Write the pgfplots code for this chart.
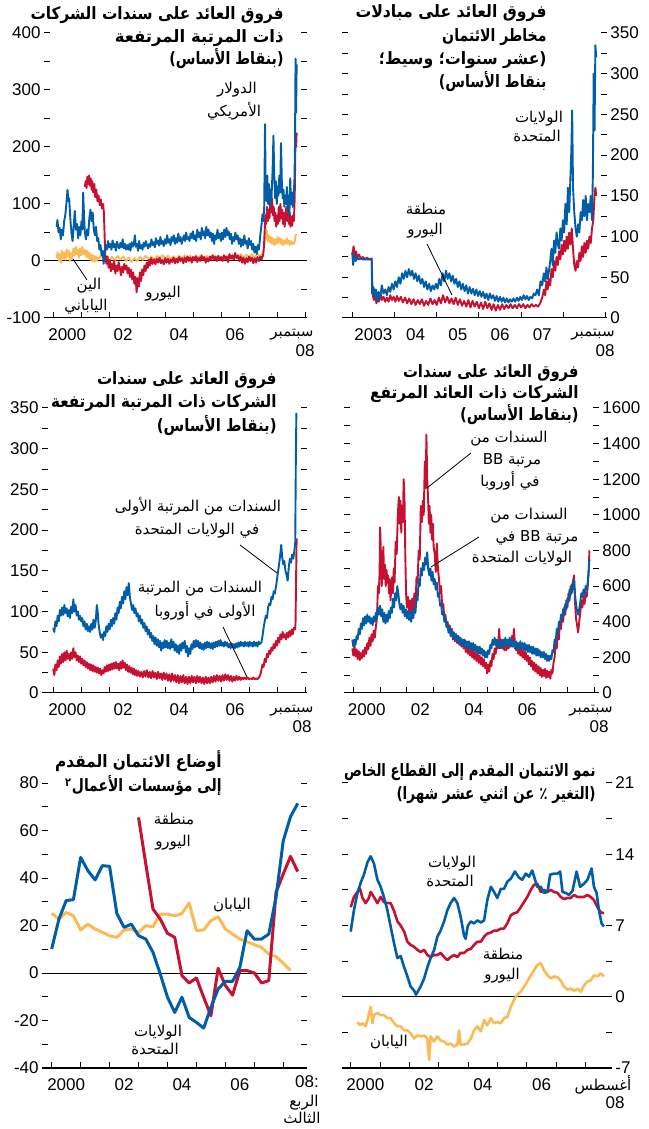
\documentclass[border=0pt]{standalone}
\usepackage{fontspec}
\setmainfont{Liberation Sans}
\newfontfamily\ar[Script=Arabic]{DejaVu Sans}
\TeXXeTstate=1
\usepackage{graphicx}
\usepackage{pgfplots}
\pgfplotsset{compat=1.18}

\definecolor{ecoblue}{RGB}{0,94,168}
\definecolor{ecored}{RGB}{198,17,49}
\definecolor{ecoyel}{RGB}{252,186,84}

\pgfplotsset{
  eco/.style={
    scale only axis, height=142.5pt, clip=false,
    axis line style={draw=none},
    tick align=inside,
    major tick length=3pt, minor tick length=3pt,
    tick style={black, line width=0.5pt},
    xtick pos=left, ytick pos=both,
    xtick={1999,...,2009}, xticklabels={},
    minor y tick num=1,
    extra x tick style={major tick length=0pt},
    tick label style={font=\fontsize{8.5}{10}\selectfont},
    x tick label style={yshift=-2pt},
    yticklabel style={inner sep=1.5pt},
    /pgf/number format/assume math mode=true,
    /pgf/number format/set thousands separator={},
  },
  noisy/.style={line width=0.95pt, line join=round},
  smooth5/.style={line width=1.5pt, line join=round},
}
% title line: [horizontal squeeze]{x}{y}{text}
\newcommand\ttl[4][0.87]{\node[anchor=base east, inner sep=0pt, font=\ar\bfseries\fontsize{8.5}{10}\selectfont] at (#2,#3) {\scalebox{#1}[1]{#4}};}
\newcommand\lbl[3]{\node[anchor=base, inner sep=0pt, font=\ar\fontsize{7.5}{9}\selectfont] at (#1,#2) {#3};}
\newcommand\num[3]{\node[anchor=base, inner sep=0pt, font=\fontsize{8.5}{10}\selectfont] at (#1,#2) {#3};}

\begin{document}
\begin{tikzpicture}
\path[use as bounding box] (0,0) rectangle (324pt,564.5pt);

% ---------- panel 1: corporate bond spreads, high grade
\begin{axis}[eco, at={(22pt,405.5pt)}, anchor=south west, width=131.5pt,
  xmin=1999.67, xmax=2009.07, ymin=-100, ymax=400, ytick={-100,0,...,400},
  yticklabel pos=left,
  extra x ticks={2000.5,2002.5,2004.5,2006.5}, extra x tick labels={2000,02,04,06}]
\draw[line width=0.5pt] ({rel axis cs:0,0}|-{axis cs:2000,0}) -- ({rel axis cs:1,0}|-{axis cs:2000,0});
\addplot[noisy, ecoyel] coordinates {(2000.12,5)(2000.16,15)(2000.20,0)(2000.24,12)(2000.28,-3)(2000.32,18)(2000.36,5)(2000.40,15)(2000.44,2)(2000.48,20)(2000.52,8)(2000.56,18)(2000.60,0)(2000.64,14)(2000.68,4)(2000.72,22)(2000.76,10)(2000.80,25)(2000.84,12)(2000.88,20)(2000.92,6)(2000.96,22)(2001.00,10)(2001.04,25)(2001.08,12)(2001.12,20)(2001.16,8)(2001.20,18)(2001.24,5)(2001.28,15)(2001.32,2)(2001.36,12)(2001.40,0)(2001.44,10)(2001.48,-2)(2001.52,8)(2001.56,0)(2001.60,6)(2001.64,4)(2001.7,10)(2001.8,2)(2001.9,8)(2002.0,0)(2002.1,7)(2002.2,1)(2002.3,9)(2002.4,3)(2002.5,8)(2002.6,0)(2002.7,6)(2002.8,-2)(2002.9,5)(2003.0,0)(2003.1,7)(2003.2,2)(2003.3,9)(2003.4,3)(2003.5,8)(2003.6,2)(2003.7,9)(2003.8,3)(2003.9,10)(2004.0,4)(2004.1,9)(2004.2,3)(2004.3,8)(2004.4,2)(2004.5,9)(2004.6,4)(2004.7,10)(2004.8,3)(2004.9,9)(2005.0,4)(2005.1,10)(2005.2,5)(2005.3,11)(2005.4,4)(2005.5,9)(2005.6,3)(2005.7,10)(2005.8,4)(2005.9,9)(2006.0,3)(2006.1,10)(2006.2,5)(2006.3,11)(2006.4,4)(2006.5,10)(2006.6,5)(2006.7,12)(2006.8,6)(2006.9,11)(2007.0,5)(2007.1,12)(2007.2,6)(2007.3,13)(2007.4,8)(2007.50,14)(2007.54,25)(2007.57,50)(2007.60,40)(2007.63,55)(2007.66,35)(2007.70,45)(2007.74,32)(2007.78,42)(2007.82,30)(2007.86,40)(2007.90,28)(2007.94,38)(2007.98,30)(2008.02,42)(2008.06,32)(2008.10,40)(2008.14,30)(2008.18,38)(2008.22,28)(2008.26,36)(2008.30,30)(2008.34,40)(2008.38,30)(2008.42,36)(2008.46,28)(2008.50,35)(2008.54,30)(2008.58,33)(2008.62,30)(2008.66,45)(2008.70,47)};
\addplot[noisy, ecored] coordinates {(2001.13,130)(2001.16,140)(2001.19,128)(2001.22,148)(2001.25,135)(2001.28,150)(2001.31,132)(2001.34,145)(2001.37,125)(2001.40,140)(2001.43,120)(2001.47,135)(2001.50,112)(2001.54,125)(2001.58,105)(2001.62,115)(2001.66,98)(2001.70,108)(2001.74,92)(2001.78,100)(2001.81,85)(2001.84,40)(2001.86,10)(2001.90,-5)(2001.94,8)(2001.98,-12)(2002.02,2)(2002.06,-18)(2002.10,-5)(2002.14,-15)(2002.18,0)(2002.22,-22)(2002.26,-8)(2002.30,-18)(2002.34,-2)(2002.38,-12)(2002.42,-25)(2002.46,-10)(2002.50,-20)(2002.54,-5)(2002.58,-15)(2002.62,-8)(2002.66,-22)(2002.70,-12)(2002.74,-28)(2002.78,-15)(2002.82,-32)(2002.86,-20)(2002.90,-40)(2002.94,-28)(2002.98,-55)(2003.02,-30)(2003.06,-45)(2003.10,-20)(2003.14,-35)(2003.18,-15)(2003.22,-25)(2003.26,-8)(2003.30,-18)(2003.34,-3)(2003.38,-12)(2003.42,2)(2003.46,-8)(2003.50,5)(2003.55,-5)(2003.60,3)(2003.65,-6)(2003.70,4)(2003.75,-3)(2003.80,6)(2003.85,-4)(2003.90,2)(2003.95,-6)(2004.00,5)(2004.05,-3)(2004.10,4)(2004.15,-5)(2004.20,3)(2004.25,-2)(2004.30,6)(2004.35,-4)(2004.40,4)(2004.45,-3)(2004.50,7)(2004.55,0)(2004.60,5)(2004.65,-4)(2004.70,6)(2004.75,-2)(2004.80,8)(2004.85,0)(2004.90,6)(2004.95,-3)(2005.00,7)(2005.05,1)(2005.10,8)(2005.15,-2)(2005.20,6)(2005.25,0)(2005.30,9)(2005.35,2)(2005.40,7)(2005.45,-3)(2005.50,5)(2005.55,-1)(2005.60,8)(2005.65,2)(2005.70,10)(2005.75,3)(2005.80,8)(2005.85,0)(2005.90,9)(2005.95,2)(2006.00,7)(2006.05,0)(2006.10,10)(2006.15,3)(2006.20,8)(2006.25,-2)(2006.30,12)(2006.35,4)(2006.40,10)(2006.45,2)(2006.50,14)(2006.55,5)(2006.60,10)(2006.65,0)(2006.70,8)(2006.75,-3)(2006.80,6)(2006.85,-5)(2006.90,5)(2006.95,-2)(2007.00,8)(2007.05,0)(2007.10,6)(2007.15,-4)(2007.20,5)(2007.25,-3)(2007.30,7)(2007.35,0)(2007.40,8)(2007.45,3)(2007.50,10)(2007.53,25)(2007.56,55)(2007.58,80)(2007.61,65)(2007.64,95)(2007.67,70)(2007.70,90)(2007.73,75)(2007.76,105)(2007.79,85)(2007.82,110)(2007.85,80)(2007.88,95)(2007.91,70)(2007.94,85)(2007.97,60)(2008.00,80)(2008.03,65)(2008.06,95)(2008.09,70)(2008.12,100)(2008.15,75)(2008.18,90)(2008.21,65)(2008.24,85)(2008.27,60)(2008.30,80)(2008.33,95)(2008.36,70)(2008.39,90)(2008.42,65)(2008.45,85)(2008.48,60)(2008.51,78)(2008.54,62)(2008.57,80)(2008.60,70)(2008.63,110)(2008.66,225)(2008.68,200)(2008.70,225)};
\addplot[noisy, ecoblue] coordinates {(2000.12,60)(2000.15,72)(2000.19,50)(2000.23,58)(2000.27,38)(2000.31,55)(2000.35,45)(2000.39,70)(2000.43,80)(2000.47,100)(2000.51,125)(2000.54,105)(2000.57,110)(2000.61,75)(2000.65,50)(2000.69,35)(2000.73,60)(2000.77,88)(2000.81,55)(2000.85,65)(2000.89,40)(2000.93,60)(2000.97,45)(2001.01,70)(2001.04,55)(2001.07,120)(2001.10,80)(2001.13,50)(2001.17,38)(2001.21,55)(2001.25,45)(2001.29,75)(2001.33,90)(2001.37,70)(2001.41,85)(2001.45,55)(2001.49,45)(2001.53,60)(2001.57,35)(2001.61,40)(2001.65,20)(2001.69,28)(2001.73,10)(2001.77,18)(2001.80,-5)(2001.84,15)(2001.88,28)(2001.92,20)(2001.96,35)(2002.00,24)(2002.04,30)(2002.08,20)(2002.12,36)(2002.16,24)(2002.20,30)(2002.24,18)(2002.28,34)(2002.32,26)(2002.36,22)(2002.40,32)(2002.44,24)(2002.48,38)(2002.52,22)(2002.56,30)(2002.60,20)(2002.64,28)(2002.68,20)(2002.72,30)(2002.76,18)(2002.80,33)(2002.84,25)(2002.88,30)(2002.92,45)(2002.95,25)(2002.99,30)(2003.03,18)(2003.07,35)(2003.11,22)(2003.15,28)(2003.19,20)(2003.23,32)(2003.27,25)(2003.31,35)(2003.35,28)(2003.39,22)(2003.43,30)(2003.47,25)(2003.51,38)(2003.55,28)(2003.59,33)(2003.63,24)(2003.67,40)(2003.71,30)(2003.75,36)(2003.79,27)(2003.83,42)(2003.87,30)(2003.91,35)(2003.95,26)(2003.99,38)(2004.03,30)(2004.07,45)(2004.11,32)(2004.15,38)(2004.19,28)(2004.23,42)(2004.27,35)(2004.31,45)(2004.35,30)(2004.39,40)(2004.43,32)(2004.47,48)(2004.51,35)(2004.55,42)(2004.59,30)(2004.63,38)(2004.67,45)(2004.71,35)(2004.75,50)(2004.79,38)(2004.83,42)(2004.87,35)(2004.91,48)(2004.95,40)(2004.99,52)(2005.03,38)(2005.07,45)(2005.11,35)(2005.15,55)(2005.19,42)(2005.23,50)(2005.27,38)(2005.31,58)(2005.35,45)(2005.39,52)(2005.43,40)(2005.47,60)(2005.51,45)(2005.55,55)(2005.59,42)(2005.63,50)(2005.67,35)(2005.71,48)(2005.75,30)(2005.79,45)(2005.83,38)(2005.87,55)(2005.91,40)(2005.95,48)(2005.99,35)(2006.03,50)(2006.07,38)(2006.11,55)(2006.15,42)(2006.19,58)(2006.23,45)(2006.27,52)(2006.31,38)(2006.35,48)(2006.39,30)(2006.43,42)(2006.47,35)(2006.51,50)(2006.55,38)(2006.59,45)(2006.63,30)(2006.67,40)(2006.71,25)(2006.75,38)(2006.79,28)(2006.83,45)(2006.87,30)(2006.91,35)(2006.95,22)(2006.99,40)(2007.03,28)(2007.07,35)(2007.11,20)(2007.15,30)(2007.19,15)(2007.23,25)(2007.27,12)(2007.31,28)(2007.35,20)(2007.40,45)(2007.44,62)(2007.48,82)(2007.51,70)(2007.54,95)(2007.57,240)(2007.59,140)(2007.62,105)(2007.65,150)(2007.68,100)(2007.71,135)(2007.74,95)(2007.77,125)(2007.80,110)(2007.84,160)(2007.87,220)(2007.90,150)(2007.93,110)(2007.96,140)(2007.99,100)(2008.02,130)(2008.05,115)(2008.08,150)(2008.11,120)(2008.14,207)(2008.17,140)(2008.20,110)(2008.23,125)(2008.26,95)(2008.29,115)(2008.32,100)(2008.35,130)(2008.38,90)(2008.41,115)(2008.44,80)(2008.47,145)(2008.50,100)(2008.53,120)(2008.56,95)(2008.59,115)(2008.62,140)(2008.64,200)(2008.66,355)(2008.68,260)(2008.70,345)};
\draw[line width=0.5pt] (rel axis cs:0,0) -- (rel axis cs:1,0);
\end{axis}

% ---------- panel 2: credit default swap spreads
\begin{axis}[eco, at={(171pt,405.5pt)}, anchor=south west, width=132.5pt,
  xmin=2002.756, xmax=2009.035, ymin=0, ymax=350, ytick={0,50,...,350},
  yticklabel pos=right,
  extra x ticks={2003.5,2004.5,2005.5,2006.5,2007.5}, extra x tick labels={2003,04,05,06,07}]
\addplot[noisy, ecored] coordinates {(2003.00,78)(2003.03,88)(2003.06,75)(2003.09,82)(2003.12,74)(2003.16,78)(2003.20,73)(2003.25,75)(2003.30,72)(2003.35,74)(2003.40,72)(2003.46,73)(2003.48,30)(2003.51,22)(2003.54,35)(2003.57,18)(2003.60,28)(2003.63,20)(2003.67,30)(2003.70,22)(2003.74,26)(2003.78,20)(2003.82,25)(2003.86,20)(2003.90,28)(2003.94,22)(2003.98,26)(2004.02,20)(2004.06,27)(2004.10,21)(2004.15,26)(2004.20,19)(2004.25,25)(2004.30,18)(2004.35,24)(2004.40,17)(2004.45,23)(2004.50,16)(2004.55,22)(2004.60,17)(2004.65,23)(2004.70,15)(2004.75,21)(2004.80,16)(2004.85,24)(2004.90,17)(2004.95,22)(2005.00,16)(2005.05,25)(2005.10,18)(2005.15,28)(2005.20,19)(2005.25,26)(2005.30,18)(2005.35,24)(2005.40,17)(2005.45,25)(2005.50,16)(2005.55,23)(2005.60,15)(2005.65,21)(2005.70,14)(2005.75,22)(2005.80,13)(2005.85,21)(2005.90,14)(2005.95,20)(2006.00,12)(2006.05,19)(2006.10,11)(2006.15,20)(2006.20,12)(2006.25,18)(2006.30,10)(2006.35,17)(2006.40,9)(2006.45,16)(2006.50,10)(2006.55,17)(2006.60,11)(2006.65,16)(2006.70,12)(2006.75,17)(2006.80,12)(2006.85,16)(2006.90,12)(2006.95,17)(2007.00,13)(2007.05,17)(2007.10,12)(2007.15,16)(2007.20,13)(2007.25,17)(2007.30,14)(2007.35,16)(2007.40,14)(2007.45,18)(2007.50,25)(2007.54,35)(2007.57,28)(2007.60,45)(2007.63,35)(2007.66,48)(2007.69,40)(2007.72,60)(2007.75,50)(2007.78,70)(2007.81,58)(2007.84,75)(2007.87,65)(2007.90,82)(2007.93,72)(2007.96,90)(2007.99,78)(2008.02,95)(2008.05,82)(2008.08,100)(2008.11,85)(2008.14,105)(2008.17,90)(2008.20,110)(2008.23,85)(2008.26,65)(2008.29,58)(2008.32,70)(2008.35,62)(2008.38,80)(2008.41,70)(2008.44,88)(2008.47,75)(2008.50,92)(2008.53,80)(2008.56,95)(2008.59,85)(2008.62,100)(2008.65,92)(2008.68,110)(2008.71,120)(2008.74,150)(2008.76,160)(2008.78,150)};
\addplot[noisy, ecoblue] coordinates {(2003.00,80)(2003.02,65)(2003.05,78)(2003.08,70)(2003.11,74)(2003.15,72)(2003.20,73)(2003.25,72)(2003.30,72)(2003.35,72)(2003.42,72)(2003.46,72)(2003.47,30)(2003.50,38)(2003.53,25)(2003.56,35)(2003.59,20)(2003.62,32)(2003.66,25)(2003.70,40)(2003.74,30)(2003.78,35)(2003.82,28)(2003.86,38)(2003.90,32)(2003.94,42)(2003.98,35)(2004.02,45)(2004.06,38)(2004.10,50)(2004.14,42)(2004.18,55)(2004.22,48)(2004.26,58)(2004.30,50)(2004.34,60)(2004.38,52)(2004.42,58)(2004.46,48)(2004.50,55)(2004.54,45)(2004.58,52)(2004.62,42)(2004.66,48)(2004.70,38)(2004.74,45)(2004.78,35)(2004.82,42)(2004.86,33)(2004.90,40)(2004.94,35)(2004.98,42)(2005.02,36)(2005.06,48)(2005.10,40)(2005.14,55)(2005.18,45)(2005.22,58)(2005.26,48)(2005.30,55)(2005.34,45)(2005.38,52)(2005.42,42)(2005.46,48)(2005.50,38)(2005.54,45)(2005.58,35)(2005.62,42)(2005.66,33)(2005.70,40)(2005.74,30)(2005.78,38)(2005.82,30)(2005.86,36)(2005.90,28)(2005.94,35)(2005.98,27)(2006.02,33)(2006.06,26)(2006.10,32)(2006.14,24)(2006.18,30)(2006.22,22)(2006.26,30)(2006.30,24)(2006.34,28)(2006.38,21)(2006.42,27)(2006.46,20)(2006.50,26)(2006.54,20)(2006.58,25)(2006.62,19)(2006.66,24)(2006.70,19)(2006.74,23)(2006.78,20)(2006.82,24)(2006.86,20)(2006.90,25)(2006.94,21)(2006.98,26)(2007.02,22)(2007.06,28)(2007.10,23)(2007.14,27)(2007.18,22)(2007.22,26)(2007.26,24)(2007.30,30)(2007.34,28)(2007.38,35)(2007.42,28)(2007.46,45)(2007.50,40)(2007.54,55)(2007.57,45)(2007.60,62)(2007.63,48)(2007.66,58)(2007.69,70)(2007.72,85)(2007.75,65)(2007.78,95)(2007.81,80)(2007.84,105)(2007.87,90)(2007.90,85)(2007.93,110)(2007.96,95)(2007.99,120)(2008.02,105)(2008.05,140)(2008.08,115)(2008.11,160)(2008.14,130)(2008.17,175)(2008.19,205)(2008.21,255)(2008.23,160)(2008.26,130)(2008.29,110)(2008.32,100)(2008.35,115)(2008.38,105)(2008.41,130)(2008.44,120)(2008.47,145)(2008.50,125)(2008.53,150)(2008.56,120)(2008.59,140)(2008.62,130)(2008.65,150)(2008.68,120)(2008.70,175)(2008.72,300)(2008.74,230)(2008.76,335)(2008.78,320)};
\draw[line width=0.5pt] (rel axis cs:0,0) -- (rel axis cs:1,0);
\end{axis}

% ---------- panel 3: corporate bond spreads, top grade
\begin{axis}[eco, at={(21pt,218pt)}, anchor=south west, width=132.5pt,
  xmin=1999.6, xmax=2009.07, ymin=0, ymax=350, ytick={0,50,...,350},
  yticklabel pos=left,
  extra x ticks={2000.5,2002.5,2004.5,2006.5}, extra x tick labels={2000,02,04,06}]
\addplot[noisy, ecored] coordinates {(2000.00,30)(2000.04,22)(2000.08,35)(2000.12,28)(2000.16,40)(2000.20,32)(2000.24,45)(2000.28,36)(2000.32,48)(2000.36,38)(2000.40,50)(2000.44,40)(2000.48,52)(2000.52,42)(2000.56,48)(2000.60,40)(2000.64,50)(2000.68,42)(2000.72,55)(2000.76,44)(2000.80,50)(2000.84,40)(2000.88,46)(2000.92,38)(2000.96,45)(2001.00,36)(2001.04,42)(2001.08,34)(2001.12,40)(2001.16,32)(2001.20,38)(2001.24,30)(2001.28,36)(2001.32,28)(2001.36,35)(2001.40,27)(2001.44,34)(2001.48,26)(2001.52,32)(2001.56,25)(2001.60,31)(2001.64,24)(2001.68,30)(2001.72,22)(2001.76,28)(2001.80,24)(2001.84,32)(2001.88,26)(2001.92,34)(2001.96,27)(2002.00,35)(2002.04,28)(2002.08,36)(2002.12,29)(2002.16,37)(2002.20,30)(2002.24,38)(2002.28,30)(2002.32,36)(2002.36,28)(2002.40,38)(2002.44,30)(2002.48,40)(2002.52,31)(2002.56,37)(2002.60,28)(2002.64,35)(2002.68,26)(2002.72,33)(2002.76,25)(2002.80,31)(2002.84,23)(2002.88,30)(2002.92,22)(2002.96,28)(2003.00,21)(2003.05,27)(2003.10,20)(2003.15,26)(2003.20,19)(2003.25,27)(2003.30,20)(2003.35,28)(2003.40,19)(2003.45,26)(2003.50,18)(2003.55,27)(2003.60,19)(2003.65,25)(2003.70,17)(2003.75,26)(2003.80,18)(2003.85,24)(2003.90,16)(2003.95,25)(2004.00,17)(2004.05,24)(2004.10,15)(2004.15,23)(2004.20,14)(2004.25,24)(2004.30,15)(2004.35,22)(2004.40,13)(2004.45,22)(2004.50,12)(2004.55,21)(2004.60,13)(2004.65,22)(2004.70,12)(2004.75,20)(2004.80,11)(2004.85,20)(2004.90,12)(2004.95,21)(2005.00,13)(2005.05,20)(2005.10,12)(2005.15,21)(2005.20,13)(2005.25,20)(2005.30,12)(2005.35,19)(2005.40,11)(2005.45,20)(2005.50,12)(2005.55,19)(2005.60,12)(2005.65,20)(2005.70,13)(2005.75,21)(2005.80,14)(2005.85,22)(2005.90,15)(2005.95,21)(2006.00,14)(2006.05,22)(2006.10,15)(2006.15,23)(2006.20,16)(2006.25,22)(2006.30,15)(2006.35,21)(2006.40,14)(2006.45,20)(2006.50,15)(2006.55,21)(2006.60,16)(2006.65,20)(2006.70,16)(2006.75,19)(2006.80,17)(2006.85,19)(2006.90,17)(2006.95,19)(2007.00,17)(2007.05,18)(2007.10,17)(2007.15,19)(2007.20,17)(2007.25,18)(2007.30,17)(2007.35,19)(2007.40,22)(2007.44,28)(2007.48,35)(2007.52,32)(2007.56,42)(2007.60,38)(2007.64,48)(2007.68,44)(2007.72,52)(2007.76,48)(2007.80,56)(2007.84,52)(2007.88,60)(2007.92,55)(2007.96,64)(2008.00,58)(2008.04,68)(2008.08,62)(2008.12,72)(2008.16,66)(2008.20,75)(2008.24,68)(2008.28,72)(2008.32,66)(2008.36,74)(2008.40,68)(2008.44,76)(2008.48,70)(2008.52,78)(2008.56,72)(2008.60,80)(2008.64,78)(2008.66,85)(2008.68,140)(2008.70,190)};
\addplot[noisy, ecoblue] coordinates {(2000.00,80)(2000.04,75)(2000.08,88)(2000.12,82)(2000.16,95)(2000.20,88)(2000.24,102)(2000.28,95)(2000.32,105)(2000.36,96)(2000.40,108)(2000.44,98)(2000.48,104)(2000.52,94)(2000.56,102)(2000.60,92)(2000.64,106)(2000.68,98)(2000.72,115)(2000.76,100)(2000.80,108)(2000.84,95)(2000.88,100)(2000.92,90)(2000.96,95)(2001.00,88)(2001.04,92)(2001.08,82)(2001.12,88)(2001.16,78)(2001.20,85)(2001.24,76)(2001.28,82)(2001.32,75)(2001.36,85)(2001.40,78)(2001.44,90)(2001.48,80)(2001.52,88)(2001.56,108)(2001.59,100)(2001.62,85)(2001.66,75)(2001.70,68)(2001.74,72)(2001.78,65)(2001.82,75)(2001.86,70)(2001.90,82)(2001.94,75)(2001.98,85)(2002.02,78)(2002.06,90)(2002.10,82)(2002.14,92)(2002.18,85)(2002.22,98)(2002.26,90)(2002.30,105)(2002.34,98)(2002.38,112)(2002.42,104)(2002.46,118)(2002.50,110)(2002.54,125)(2002.58,115)(2002.62,130)(2002.66,120)(2002.70,135)(2002.74,118)(2002.78,110)(2002.82,102)(2002.86,108)(2002.90,98)(2002.94,104)(2002.98,94)(2003.02,98)(2003.06,88)(2003.10,95)(2003.14,85)(2003.18,90)(2003.22,80)(2003.26,86)(2003.30,76)(2003.34,82)(2003.38,72)(2003.42,78)(2003.46,68)(2003.50,74)(2003.54,64)(2003.58,70)(2003.62,60)(2003.66,68)(2003.70,58)(2003.74,66)(2003.78,56)(2003.82,64)(2003.86,52)(2003.90,62)(2003.94,55)(2003.98,65)(2004.02,56)(2004.06,64)(2004.10,55)(2004.14,62)(2004.18,54)(2004.22,66)(2004.26,56)(2004.30,63)(2004.34,52)(2004.38,60)(2004.42,50)(2004.46,58)(2004.50,48)(2004.54,60)(2004.58,52)(2004.62,62)(2004.66,55)(2004.70,64)(2004.74,50)(2004.78,58)(2004.82,45)(2004.86,55)(2004.90,48)(2004.94,60)(2004.98,54)(2005.02,64)(2005.06,56)(2005.10,65)(2005.14,57)(2005.18,64)(2005.22,55)(2005.26,62)(2005.30,54)(2005.34,60)(2005.38,53)(2005.42,62)(2005.46,55)(2005.50,63)(2005.54,56)(2005.58,62)(2005.62,55)(2005.66,61)(2005.70,54)(2005.74,62)(2005.78,56)(2005.82,63)(2005.86,57)(2005.90,64)(2005.94,58)(2005.98,65)(2006.02,58)(2006.06,62)(2006.10,57)(2006.14,63)(2006.18,58)(2006.22,62)(2006.26,56)(2006.30,60)(2006.34,55)(2006.38,61)(2006.42,56)(2006.46,60)(2006.50,55)(2006.54,61)(2006.58,56)(2006.62,62)(2006.66,57)(2006.70,63)(2006.74,58)(2006.78,62)(2006.82,57)(2006.86,63)(2006.90,58)(2006.94,62)(2006.98,57)(2007.02,63)(2007.06,58)(2007.10,62)(2007.14,57)(2007.18,63)(2007.22,58)(2007.26,62)(2007.30,57)(2007.34,63)(2007.38,60)(2007.44,62)(2007.48,70)(2007.52,80)(2007.56,88)(2007.60,95)(2007.64,92)(2007.68,105)(2007.72,110)(2007.76,108)(2007.80,118)(2007.84,115)(2007.88,125)(2007.92,122)(2007.96,130)(2008.00,140)(2008.04,150)(2008.08,160)(2008.12,172)(2008.15,182)(2008.18,168)(2008.22,158)(2008.26,162)(2008.30,150)(2008.34,145)(2008.38,138)(2008.42,155)(2008.46,165)(2008.50,160)(2008.54,170)(2008.58,165)(2008.62,175)(2008.65,185)(2008.67,280)(2008.69,344)};
\draw[line width=0.5pt] (rel axis cs:0,0) -- (rel axis cs:1,0);
\end{axis}

% ---------- panel 4: high-yield corporate bond spreads
\begin{axis}[eco, at={(172pt,218pt)}, anchor=south west, width=127.5pt,
  xmin=1999.65, xmax=2009.18, ymin=0, ymax=1600, ytick={0,200,...,1600},
  yticklabel pos=right,
  extra x ticks={2000.5,2002.5,2004.5,2006.5}, extra x tick labels={2000,02,04,06}]
\addplot[noisy, ecored] coordinates {(1999.96,250)(2000.00,210)(2000.04,265)(2000.08,205)(2000.12,245)(2000.16,190)(2000.20,235)(2000.24,185)(2000.28,225)(2000.32,195)(2000.36,240)(2000.40,205)(2000.44,255)(2000.48,220)(2000.52,280)(2000.56,245)(2000.60,310)(2000.64,265)(2000.68,330)(2000.72,290)(2000.76,350)(2000.80,310)(2000.84,370)(2000.88,420)(2000.92,600)(2000.95,560)(2000.98,680)(2001.00,930)(2001.03,780)(2001.06,600)(2001.09,700)(2001.12,820)(2001.15,640)(2001.18,720)(2001.21,600)(2001.24,690)(2001.27,620)(2001.30,660)(2001.33,560)(2001.36,640)(2001.39,520)(2001.42,600)(2001.45,650)(2001.48,560)(2001.51,700)(2001.54,620)(2001.58,850)(2001.62,780)(2001.66,1000)(2001.70,1100)(2001.73,950)(2001.76,1080)(2001.79,900)(2001.82,1050)(2001.85,960)(2001.88,1200)(2001.91,1100)(2001.94,780)(2001.97,560)(2002.00,480)(2002.04,540)(2002.08,440)(2002.12,520)(2002.16,450)(2002.20,530)(2002.24,460)(2002.28,560)(2002.32,480)(2002.36,650)(2002.40,620)(2002.44,800)(2002.48,750)(2002.52,1050)(2002.56,960)(2002.60,1080)(2002.63,1000)(2002.67,1300)(2002.70,1150)(2002.73,1450)(2002.76,1200)(2002.79,1100)(2002.82,950)(2002.85,1050)(2002.88,900)(2002.91,1000)(2002.94,860)(2002.97,950)(2003.00,820)(2003.04,780)(2003.08,680)(2003.12,840)(2003.16,700)(2003.20,640)(2003.24,560)(2003.28,600)(2003.32,480)(2003.36,500)(2003.40,420)(2003.44,440)(2003.48,380)(2003.52,400)(2003.56,340)(2003.60,380)(2003.64,320)(2003.68,360)(2003.72,300)(2003.76,340)(2003.80,290)(2003.84,330)(2003.88,280)(2003.92,320)(2003.96,270)(2004.00,310)(2004.04,260)(2004.08,300)(2004.12,250)(2004.16,290)(2004.20,230)(2004.24,270)(2004.28,220)(2004.32,260)(2004.36,210)(2004.40,250)(2004.44,200)(2004.48,240)(2004.52,190)(2004.56,230)(2004.60,180)(2004.64,220)(2004.68,170)(2004.72,210)(2004.76,160)(2004.80,200)(2004.84,150)(2004.88,190)(2004.92,140)(2004.96,170)(2005.00,110)(2005.04,160)(2005.08,120)(2005.12,180)(2005.16,150)(2005.20,220)(2005.24,190)(2005.28,250)(2005.32,220)(2005.36,290)(2005.40,250)(2005.45,360)(2005.48,270)(2005.52,300)(2005.56,250)(2005.60,290)(2005.64,240)(2005.68,280)(2005.72,240)(2005.76,290)(2005.80,250)(2005.84,300)(2005.88,260)(2005.92,320)(2005.96,280)(2006.00,360)(2006.04,270)(2006.08,240)(2006.12,280)(2006.16,220)(2006.20,260)(2006.24,210)(2006.28,250)(2006.32,200)(2006.36,240)(2006.40,190)(2006.44,230)(2006.48,180)(2006.52,210)(2006.56,160)(2006.60,200)(2006.64,150)(2006.68,180)(2006.72,130)(2006.76,170)(2006.80,120)(2006.84,160)(2006.88,110)(2006.92,150)(2006.96,100)(2007.00,140)(2007.04,90)(2007.08,130)(2007.12,95)(2007.16,135)(2007.20,85)(2007.24,125)(2007.28,90)(2007.32,120)(2007.36,80)(2007.40,130)(2007.44,110)(2007.48,170)(2007.52,200)(2007.56,280)(2007.60,250)(2007.64,340)(2007.68,300)(2007.72,400)(2007.76,360)(2007.80,440)(2007.84,400)(2007.88,480)(2007.92,440)(2007.96,520)(2008.00,480)(2008.04,560)(2008.08,520)(2008.12,600)(2008.16,560)(2008.20,620)(2008.25,660)(2008.28,520)(2008.32,420)(2008.36,380)(2008.40,340)(2008.44,400)(2008.48,450)(2008.52,520)(2008.56,480)(2008.60,540)(2008.64,500)(2008.68,560)(2008.72,540)(2008.76,600)(2008.80,700)(2008.82,800)};
\addplot[noisy, ecoblue] coordinates {(1999.96,300)(2000.00,260)(2000.04,300)(2000.08,270)(2000.12,320)(2000.16,300)(2000.20,360)(2000.24,330)(2000.28,390)(2000.32,360)(2000.36,420)(2000.40,380)(2000.44,430)(2000.48,390)(2000.52,440)(2000.56,400)(2000.60,430)(2000.64,390)(2000.68,420)(2000.72,380)(2000.76,430)(2000.80,400)(2000.84,450)(2000.88,420)(2000.92,480)(2000.96,440)(2001.00,490)(2001.04,430)(2001.08,470)(2001.12,400)(2001.16,450)(2001.20,390)(2001.24,440)(2001.28,400)(2001.32,460)(2001.36,420)(2001.40,480)(2001.44,450)(2001.48,530)(2001.52,480)(2001.56,560)(2001.60,520)(2001.64,600)(2001.68,560)(2001.72,500)(2001.76,470)(2001.80,500)(2001.84,450)(2001.88,490)(2001.92,430)(2001.96,470)(2002.00,420)(2002.04,460)(2002.08,410)(2002.12,450)(2002.16,400)(2002.20,460)(2002.24,420)(2002.28,480)(2002.32,450)(2002.36,540)(2002.40,520)(2002.44,640)(2002.48,600)(2002.52,700)(2002.56,660)(2002.60,730)(2002.64,690)(2002.68,760)(2002.72,720)(2002.76,790)(2002.80,690)(2002.84,660)(2002.88,700)(2002.92,630)(2002.96,680)(2003.00,610)(2003.04,640)(2003.08,580)(2003.12,620)(2003.16,540)(2003.20,560)(2003.24,490)(2003.28,500)(2003.32,440)(2003.36,460)(2003.40,400)(2003.44,420)(2003.48,370)(2003.52,390)(2003.56,340)(2003.60,370)(2003.64,320)(2003.68,350)(2003.72,310)(2003.76,340)(2003.80,300)(2003.84,330)(2003.88,290)(2003.92,320)(2003.96,280)(2004.00,310)(2004.04,270)(2004.08,300)(2004.12,260)(2004.16,300)(2004.20,260)(2004.24,290)(2004.28,250)(2004.32,290)(2004.36,250)(2004.40,280)(2004.44,240)(2004.48,280)(2004.52,240)(2004.56,270)(2004.60,230)(2004.64,260)(2004.68,220)(2004.72,260)(2004.76,220)(2004.80,250)(2004.84,210)(2004.88,240)(2004.92,200)(2004.96,230)(2005.00,200)(2005.04,240)(2005.08,220)(2005.12,270)(2005.16,250)(2005.20,300)(2005.24,270)(2005.28,310)(2005.32,270)(2005.36,300)(2005.40,260)(2005.44,290)(2005.48,250)(2005.52,290)(2005.56,260)(2005.60,300)(2005.64,270)(2005.68,310)(2005.72,260)(2005.76,300)(2005.80,270)(2005.84,310)(2005.88,260)(2005.92,300)(2005.96,260)(2006.00,290)(2006.04,250)(2006.08,290)(2006.12,250)(2006.16,280)(2006.20,250)(2006.24,290)(2006.28,250)(2006.32,280)(2006.36,240)(2006.40,280)(2006.44,240)(2006.48,270)(2006.52,230)(2006.56,270)(2006.60,230)(2006.64,260)(2006.68,220)(2006.72,260)(2006.76,220)(2006.80,250)(2006.84,210)(2006.88,250)(2006.92,210)(2006.96,240)(2007.00,200)(2007.04,230)(2007.08,200)(2007.12,230)(2007.16,190)(2007.20,220)(2007.24,180)(2007.28,210)(2007.32,180)(2007.36,210)(2007.40,190)(2007.44,240)(2007.48,230)(2007.52,300)(2007.56,280)(2007.60,360)(2007.64,330)(2007.68,400)(2007.72,380)(2007.76,440)(2007.80,420)(2007.84,470)(2007.88,440)(2007.92,500)(2007.96,470)(2008.00,530)(2008.04,510)(2008.08,580)(2008.12,550)(2008.16,610)(2008.20,580)(2008.24,640)(2008.28,560)(2008.32,500)(2008.36,460)(2008.40,440)(2008.44,470)(2008.48,510)(2008.52,560)(2008.56,540)(2008.60,580)(2008.64,550)(2008.68,600)(2008.72,580)(2008.76,620)(2008.80,700)(2008.82,750)};
\draw[line width=0.5pt] (rel axis cs:0,0) -- (rel axis cs:1,0);
\end{axis}

% ---------- panel 5: credit conditions for business (quarterly)
\begin{axis}[eco, at={(21pt,30.5pt)}, anchor=south west, width=132.5pt,
  xmin=1999.665, xmax=2008.82, ymin=-40, ymax=80, ytick={-40,-20,...,80},
  xtick={2000,...,2008}, yticklabel pos=left,
  extra x ticks={2000.5,2002.5,2004.5,2006.5}, extra x tick labels={2000,02,04,06}]
\draw[line width=0.5pt] ({rel axis cs:0,0}|-{axis cs:2000,0}) -- ({rel axis cs:1,0}|-{axis cs:2000,0});
\addplot[smooth5, ecoyel] coordinates {(2000.00,25.1)(2000.25,22.7)(2000.50,25.5)(2000.75,24.1)(2001.00,18.1)(2001.25,20.6)(2001.50,18.5)(2001.75,17.1)(2002.00,15.7)(2002.25,15.0)(2002.50,18.1)(2002.75,18.5)(2003.00,17.1)(2003.25,19.9)(2003.50,19.5)(2003.75,24.8)(2004.00,24.8)(2004.25,24.1)(2004.50,25.1)(2004.75,29.5)(2005.00,17.8)(2005.25,18.2)(2005.50,22.0)(2005.75,23.7)(2006.00,18.5)(2006.25,16.4)(2006.50,14.3)(2006.75,13.2)(2007.00,11.9)(2007.25,10.8)(2007.50,8.0)(2007.75,6.9)(2008.00,4.1)(2008.25,1.0)};
\addplot[smooth5, ecored] coordinates {(2003.00,65.5)(2003.25,46.0)(2003.50,26.9)(2003.75,22.7)(2004.00,16.7)(2004.25,15.0)(2004.50,-1.1)(2004.75,-4.2)(2005.00,-2.1)(2005.25,-10.2)(2005.50,-18.0)(2005.75,2.0)(2006.00,-5.3)(2006.25,-9.3)(2006.50,1.0)(2006.75,1.0)(2007.00,0.0)(2007.25,-4.2)(2007.50,-3.2)(2007.75,34.0)(2008.00,41.7)(2008.25,49.1)(2008.50,42.7)};
\addplot[smooth5, ecoblue] coordinates {(2000.00,10.1)(2000.25,22.7)(2000.50,30.5)(2000.75,30.9)(2001.00,48.7)(2001.25,43.1)(2001.50,39.2)(2001.75,45.2)(2002.00,44.9)(2002.25,25.1)(2002.50,19.2)(2002.75,20.6)(2003.00,15.7)(2003.25,14.3)(2003.50,8.7)(2003.75,-0.4)(2004.00,-10.2)(2004.25,-16.6)(2004.50,-10.2)(2004.75,-18.7)(2005.00,-20.8)(2005.25,-23.2)(2005.50,-14.5)(2005.75,-6.7)(2006.00,-3.5)(2006.25,-3.5)(2006.50,2.4)(2006.75,17.8)(2007.00,14.3)(2007.25,14.3)(2007.50,16.4)(2007.75,31.9)(2008.00,55.7)(2008.25,65.8)(2008.50,71.4)};
\draw[line width=0.5pt] (rel axis cs:0,0) -- (rel axis cs:1,0);
\end{axis}

% ---------- panel 6: private-sector credit growth (monthly)
\begin{axis}[eco, at={(171pt,30.5pt)}, anchor=south west, width=135pt,
  xmin=1999.704, xmax=2008.895, ymin=-7, ymax=21, ytick={-7,0,...,21},
  xtick={2000,...,2008}, yticklabel pos=right,
  extra x ticks={2000.5,2002.5,2004.5,2006.5}, extra x tick labels={2000,02,04,06}]
\draw[line width=0.5pt] ({rel axis cs:0,0}|-{axis cs:2000,0}) -- ({rel axis cs:1,0}|-{axis cs:2000,0});
\addplot[line width=1.3pt, line join=round, ecoyel] coordinates {(2000.23,-2.5)(2000.32,-2.8)(2000.40,-2.6)(2000.51,-2.9)(2000.57,-2.3)(2000.68,-1.0)(2000.74,-2.6)(2000.79,-1.8)(2000.91,-1.6)(2001.02,-1.8)(2001.13,-1.8)(2001.25,-2.1)(2001.36,-2.1)(2001.48,-2.6)(2001.59,-2.9)(2001.70,-2.9)(2001.82,-3.3)(2001.93,-3.3)(2002.04,-3.6)(2002.16,-4.1)(2002.27,-3.8)(2002.38,-3.9)(2002.50,-3.8)(2002.61,-4.1)(2002.67,-6.2)(2002.72,-3.9)(2002.84,-4.4)(2002.95,-3.9)(2003.06,-4.3)(2003.18,-4.4)(2003.29,-4.7)(2003.40,-4.6)(2003.52,-4.9)(2003.63,-4.7)(2003.69,-3.3)(2003.74,-4.7)(2003.86,-4.7)(2003.97,-4.6)(2004.09,-4.1)(2004.20,-3.3)(2004.31,-2.9)(2004.43,-3.4)(2004.54,-2.3)(2004.65,-2.8)(2004.77,-2.1)(2004.88,-2.6)(2004.99,-2.5)(2005.11,-2.6)(2005.22,-2.1)(2005.33,-2.0)(2005.45,-1.0)(2005.56,-0.3)(2005.67,0.2)(2005.79,0.5)(2005.90,1.0)(2006.01,1.5)(2006.13,2.1)(2006.24,2.6)(2006.35,3.1)(2006.47,3.3)(2006.58,2.6)(2006.70,2.1)(2006.81,1.8)(2006.92,2.0)(2007.04,1.9)(2007.15,1.6)(2007.26,1.0)(2007.38,0.7)(2007.49,0.8)(2007.60,0.6)(2007.72,0.8)(2007.83,0.5)(2007.94,1.1)(2008.06,1.5)(2008.17,1.6)(2008.28,2.1)(2008.40,2.0)(2008.51,2.3)(2008.62,2.0)};
\addplot[line width=1.3pt, line join=round, ecored] coordinates {(2000.00,8.8)(2000.11,9.8)(2000.23,10.3)(2000.32,10.6)(2000.40,9.7)(2000.51,9.2)(2000.62,9.7)(2000.68,10.3)(2000.79,9.8)(2000.91,9.2)(2001.02,9.8)(2001.13,9.3)(2001.25,9.2)(2001.36,9.2)(2001.48,8.4)(2001.59,7.4)(2001.70,7.0)(2001.82,6.4)(2001.93,5.4)(2002.04,5.1)(2002.16,4.9)(2002.27,4.6)(2002.38,4.4)(2002.50,4.6)(2002.61,4.1)(2002.72,3.9)(2002.84,4.1)(2002.95,4.1)(2003.06,4.3)(2003.18,3.9)(2003.29,3.6)(2003.40,3.9)(2003.52,4.1)(2003.63,3.9)(2003.74,4.3)(2003.86,4.3)(2003.97,4.6)(2004.09,4.7)(2004.20,5.1)(2004.31,5.4)(2004.43,5.4)(2004.54,5.9)(2004.65,6.2)(2004.77,6.3)(2004.88,6.5)(2004.99,6.5)(2005.11,6.7)(2005.22,6.7)(2005.33,7.2)(2005.45,8.0)(2005.56,8.2)(2005.67,8.3)(2005.79,8.8)(2005.90,9.3)(2006.01,9.8)(2006.13,10.5)(2006.24,11.0)(2006.35,11.1)(2006.47,10.3)(2006.58,10.5)(2006.70,10.3)(2006.81,10.5)(2006.92,10.3)(2007.04,10.2)(2007.15,9.8)(2007.26,9.6)(2007.38,9.7)(2007.49,9.7)(2007.60,10.0)(2007.72,9.8)(2007.83,9.8)(2007.94,9.8)(2008.06,10.0)(2008.17,9.8)(2008.28,9.5)(2008.40,8.8)(2008.51,8.3)(2008.62,8.2)};
\addplot[line width=1.3pt, line join=round, ecoblue] coordinates {(2000.00,6.4)(2000.11,8.5)(2000.23,10.2)(2000.34,11.2)(2000.45,12.0)(2000.57,13.2)(2000.68,13.8)(2000.79,13.1)(2000.91,11.5)(2001.02,10.8)(2001.13,9.8)(2001.25,8.5)(2001.36,6.9)(2001.48,5.2)(2001.59,3.8)(2001.70,4.0)(2001.82,2.9)(2001.93,2.0)(2002.04,1.0)(2002.16,0.6)(2002.22,0.2)(2002.38,1.0)(2002.50,1.8)(2002.61,2.9)(2002.72,3.8)(2002.84,4.6)(2002.95,5.9)(2003.06,6.5)(2003.18,7.4)(2003.29,8.5)(2003.40,9.2)(2003.52,9.7)(2003.63,9.2)(2003.74,7.9)(2003.86,6.0)(2003.91,5.7)(2003.99,7.0)(2004.09,7.4)(2004.20,7.2)(2004.31,7.5)(2004.43,7.3)(2004.54,7.5)(2004.65,9.5)(2004.77,10.8)(2004.88,10.3)(2004.99,9.7)(2005.11,10.6)(2005.22,10.6)(2005.33,11.3)(2005.45,11.6)(2005.59,12.3)(2005.73,11.7)(2005.84,11.5)(2005.96,12.1)(2006.07,11.8)(2006.18,12.4)(2006.35,10.8)(2006.47,10.8)(2006.58,10.2)(2006.70,10.3)(2006.79,12.0)(2006.92,12.1)(2007.04,12.1)(2007.13,12.3)(2007.21,10.3)(2007.32,10.2)(2007.43,10.0)(2007.55,10.4)(2007.69,12.3)(2007.81,10.8)(2007.94,11.1)(2008.06,11.5)(2008.20,12.6)(2008.28,10.8)(2008.37,10.2)(2008.45,8.5)(2008.54,7.2)(2008.62,6.9)};
\draw[line width=0.5pt] (rel axis cs:0,0) -- (rel axis cs:1,0);
\end{axis}

% ---------- titles, labels and leader lines (pixel grid of the reference)
\begin{scope}[x=0.5pt, y=-0.5pt, shift={(0pt,564.5pt)}]
% panel 1
\ttl[0.90]{284}{20}{\beginR فروق العائد على سندات الشركات\endR}
\ttl[0.97]{284}{43}{\beginR ذات المرتبة المرتفعة\endR}
\ttl[0.84]{284}{65}{\beginR (بنقاط الأساس)\endR}
\lbl{237}{94}{\beginR الدولار\endR}
\lbl{234}{117}{\beginR الأمريكي\endR}
\lbl{89}{290}{\beginR الين\endR}
\lbl{86}{311}{\beginR الياباني\endR}
\lbl{163}{298}{\beginR اليورو\endR}
\draw[line width=0.4pt] (87,280) -- (73,259);
\lbl{292}{337}{\beginR سبتمبر\endR}
\num{305}{357}{08}
% panel 2
\ttl[0.92]{547}{18}{\beginR فروق العائد على مبادلات\endR}
\ttl[0.83]{547}{42}{\beginR مخاطر الائتمان\endR}
\ttl[0.92]{547}{65}{\beginR (عشر سنوات؛ وسيط؛\endR}
\ttl[0.84]{547}{88}{\beginR بنقاط الأساس)\endR}
\lbl{539}{123}{\beginR الولايات\endR}
\lbl{537}{142}{\beginR المتحدة\endR}
\lbl{426}{215}{\beginR منطقة\endR}
\lbl{425}{235}{\beginR اليورو\endR}
\draw[line width=0.4pt] (427,244) -- (452,295);
\lbl{593}{337}{\beginR سبتمبر\endR}
\num{605}{357}{08}
% panel 3
\ttl[0.89]{277}{385}{\beginR فروق العائد على سندات\endR}
\ttl[0.89]{277}{408}{\beginR الشركات ذات المرتبة المرتفعة\endR}
\ttl[0.88]{277}{432}{\beginR (بنقاط الأساس)\endR}
\lbl{198}{512}{\beginR السندات من المرتبة الأولى\endR}
\lbl{197}{535}{\beginR في الولايات المتحدة\endR}
\draw[line width=0.4pt] (240,545) -- (277,573);
\lbl{200}{593}{\beginR السندات من المرتبة\endR}
\lbl{205}{617}{\beginR الأولى في أوروبا\endR}
\draw[line width=0.4pt] (223,627) -- (247,677);
\lbl{292}{713}{\beginR سبتمبر\endR}
\num{302}{733}{08}
% panel 4
\ttl[0.87]{579}{378}{\beginR فروق العائد على سندات\endR}
\ttl[0.90]{579}{399}{\beginR الشركات ذات العائد المرتفع\endR}
\ttl[0.87]{579}{421}{\beginR (بنقاط الأساس)\endR}
\lbl{509}{443}{\beginR السندات من\endR}
\lbl{512}{465}{\beginR مرتبة \beginL BB\endL\endR}
\lbl{510}{487}{\beginR في أوروبا\endR}
\draw[line width=0.4pt] (471,453) -- (427,488);
\lbl{529}{520}{\beginR السندات من\endR}
\lbl{537}{542}{\beginR مرتبة \beginL BB\endL{} في\endR}
\lbl{522}{563}{\beginR الولايات المتحدة\endR}
\draw[line width=0.4pt] (479,537) -- (431,567);
\lbl{591}{713}{\beginR سبتمبر\endR}
\num{599}{733}{08}
% panel 5
\ttl[0.90]{222}{768}{\beginR أوضاع الائتمان المقدم\endR}
\ttl[0.82]{222}{792}{\beginR إلى مؤسسات الأعمال\textsuperscript{٢}\endR}
\lbl{174}{825}{\beginR منطقة\endR}
\lbl{173}{847}{\beginR اليورو\endR}
\lbl{232}{910}{\beginR اليابان\endR}
\lbl{158}{1037}{\beginR الولايات\endR}
\lbl{155}{1055}{\beginR المتحدة\endR}
\num{307}{1088}{08:}
\lbl{304}{1107}{\beginR الربع\endR}
\lbl{302}{1124}{\beginR الثالث\endR}
% panel 6
\ttl[0.78]{596}{777}{\beginR نمو الائتمان المقدم إلى القطاع الخاص\endR}
\ttl[0.80]{596}{800}{\beginR (التغير ٪ عن اثني عشر شهرا)\endR}
\lbl{452}{868}{\beginR الولايات\endR}
\lbl{450}{887}{\beginR المتحدة\endR}
\lbl{503}{960}{\beginR منطقة\endR}
\lbl{502}{980}{\beginR اليورو\endR}
\lbl{389}{1047}{\beginR اليابان\endR}
\lbl{603}{1091}{\beginR أغسطس\endR}
\num{615}{1109}{08}
\end{scope}
\end{tikzpicture}
\end{document}
